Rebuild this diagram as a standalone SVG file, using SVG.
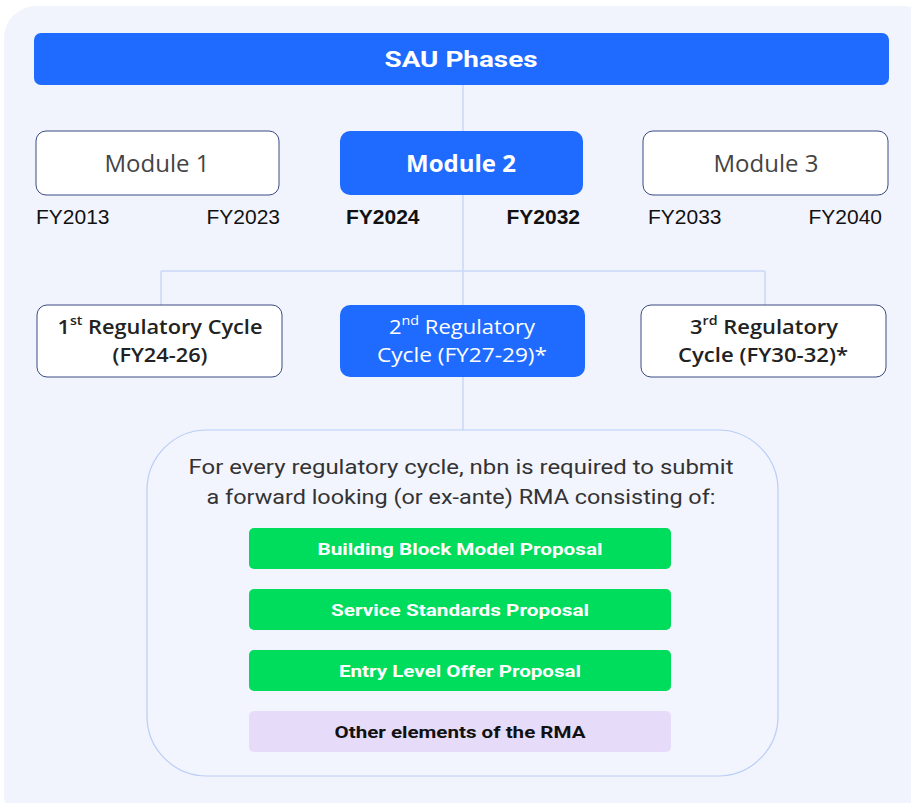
<svg xmlns="http://www.w3.org/2000/svg" width="911" height="803" viewBox="0 0 911 803">
  <style>
    .wire { stroke: #C9D8F6; stroke-width: 1.5; fill: none; }
    .outline { fill: #FFFFFF; stroke: #3B4B80; stroke-width: 1; }
    .solid { fill: #1F6BFF; }
    .green { fill: #00DC5C; }
    .lilac { fill: #E6DCFA; }
    .mod { font-family: "Open Sans", "Liberation Sans", sans-serif; font-size: 24px; text-anchor: middle; }
    .fy { font-family: "Liberation Sans", Arial, sans-serif; font-size: 21px; fill: #111; }
    .cyc { font-family: "Open Sans", "Liberation Sans", sans-serif; font-size: 20px; text-anchor: middle; }
    .note { font-family: Roboto, "Liberation Sans", sans-serif; font-size: 21px; fill: #333; text-anchor: middle; }
    .item { font-family: Roboto, "Liberation Sans", sans-serif; font-size: 17px; font-weight: bold; text-anchor: middle; }
  </style>

  <!-- page panel -->
  <rect x="4" y="6" width="930" height="820" rx="32" fill="#F1F4FD"/>

  <!-- connectors -->
  <g id="connectors">
    <line class="wire" x1="463" y1="85" x2="463" y2="305"/>
    <line class="wire" x1="161" y1="271" x2="765" y2="271"/>
    <line class="wire" x1="161" y1="271" x2="161" y2="305"/>
    <line class="wire" x1="765" y1="271" x2="765" y2="305"/>
    <line class="wire" x1="463" y1="377" x2="463" y2="430"/>
  </g>

  <g id="sau-phases">
    <rect class="solid" x="34" y="33" width="855" height="52" rx="7"/>
    <text x="461" y="67" font-family="Roboto, 'Liberation Sans', sans-serif" font-size="22" font-weight="bold" fill="#FFFFFF" text-anchor="middle" textLength="153" lengthAdjust="spacingAndGlyphs">SAU  Phases</text>
  </g>

  <g id="module-1">
    <rect class="outline" x="36" y="131" width="243" height="64" rx="10"/>
    <text class="mod" x="157" y="172" fill="#444">Module 1</text>
    <text class="fy" x="36" y="224">FY2013</text>
    <text class="fy" x="280" y="224" text-anchor="end">FY2023</text>
  </g>

  <g id="module-2">
    <rect class="solid" x="340" y="131" width="243" height="64" rx="10"/>
    <text class="mod" x="461" y="172" fill="#FFFFFF" font-weight="bold">Module 2</text>
    <text class="fy" x="346" y="224" font-weight="bold">FY2024</text>
    <text class="fy" x="580" y="224" font-weight="bold" text-anchor="end">FY2032</text>
  </g>

  <g id="module-3">
    <rect class="outline" x="643" y="131" width="245" height="64" rx="10"/>
    <text class="mod" x="766" y="172" fill="#444">Module 3</text>
    <text class="fy" x="648" y="224">FY2033</text>
    <text class="fy" x="882" y="224" text-anchor="end">FY2040</text>
  </g>

  <g id="cycle-1">
    <rect class="outline" x="37" y="305" width="245" height="72" rx="10"/>
    <text class="cyc" x="160" y="334" fill="#222" font-weight="600" textLength="205" lengthAdjust="spacingAndGlyphs">1<tspan font-size="13" baseline-shift="super">st</tspan> Regulatory Cycle</text>
    <text class="cyc" x="160" y="362" fill="#222" font-weight="600" textLength="95" lengthAdjust="spacingAndGlyphs">(FY24-26)</text>
  </g>

  <g id="cycle-2">
    <rect class="solid" x="340" y="305" width="245" height="72" rx="10"/>
    <text class="cyc" x="462" y="334" fill="#FFFFFF" textLength="146" lengthAdjust="spacingAndGlyphs">2<tspan font-size="13" baseline-shift="super">nd</tspan> Regulatory</text>
    <text class="cyc" x="462" y="362" fill="#FFFFFF" textLength="170" lengthAdjust="spacingAndGlyphs">Cycle (FY27-29)*</text>
  </g>

  <g id="cycle-3">
    <rect class="outline" x="641" y="305" width="245" height="72" rx="10"/>
    <text class="cyc" x="764" y="334" fill="#222" font-weight="600" textLength="148" lengthAdjust="spacingAndGlyphs">3<tspan font-size="13" baseline-shift="super">rd</tspan>  Regulatory</text>
    <text class="cyc" x="763" y="362" fill="#222" font-weight="600" textLength="170" lengthAdjust="spacingAndGlyphs">Cycle (FY30-32)*</text>
  </g>

  <g id="rma-requirements">
    <rect x="147" y="430" width="631" height="346" rx="60" fill="#F3F5FE" stroke="#B9CDF6" stroke-width="1.2"/>
    <text class="note" x="461" y="474" textLength="545" lengthAdjust="spacingAndGlyphs">For every regulatory cycle, nbn is required to submit</text>
    <text class="note" x="461" y="504" textLength="509" lengthAdjust="spacingAndGlyphs">a forward looking (or ex-ante) RMA consisting of:</text>
  </g>

  <g id="building-block-model">
    <rect class="green" x="249" y="528" width="422" height="41" rx="5"/>
    <text class="item" x="460" y="555" fill="#FFFFFF" textLength="285" lengthAdjust="spacingAndGlyphs">Building Block Model Proposal</text>
  </g>

  <g id="service-standards">
    <rect class="green" x="249" y="589" width="422" height="41" rx="5"/>
    <text class="item" x="460" y="616" fill="#FFFFFF" textLength="258" lengthAdjust="spacingAndGlyphs">Service Standards Proposal</text>
  </g>

  <g id="entry-level-offer">
    <rect class="green" x="249" y="650" width="422" height="41" rx="5"/>
    <text class="item" x="460" y="677" fill="#FFFFFF" textLength="242" lengthAdjust="spacingAndGlyphs">Entry Level Offer Proposal</text>
  </g>

  <g id="other-elements">
    <rect class="lilac" x="249" y="711" width="422" height="41" rx="5"/>
    <text class="item" x="460" y="738" fill="#111111" textLength="251" lengthAdjust="spacingAndGlyphs">Other elements of the RMA</text>
  </g>
</svg>
